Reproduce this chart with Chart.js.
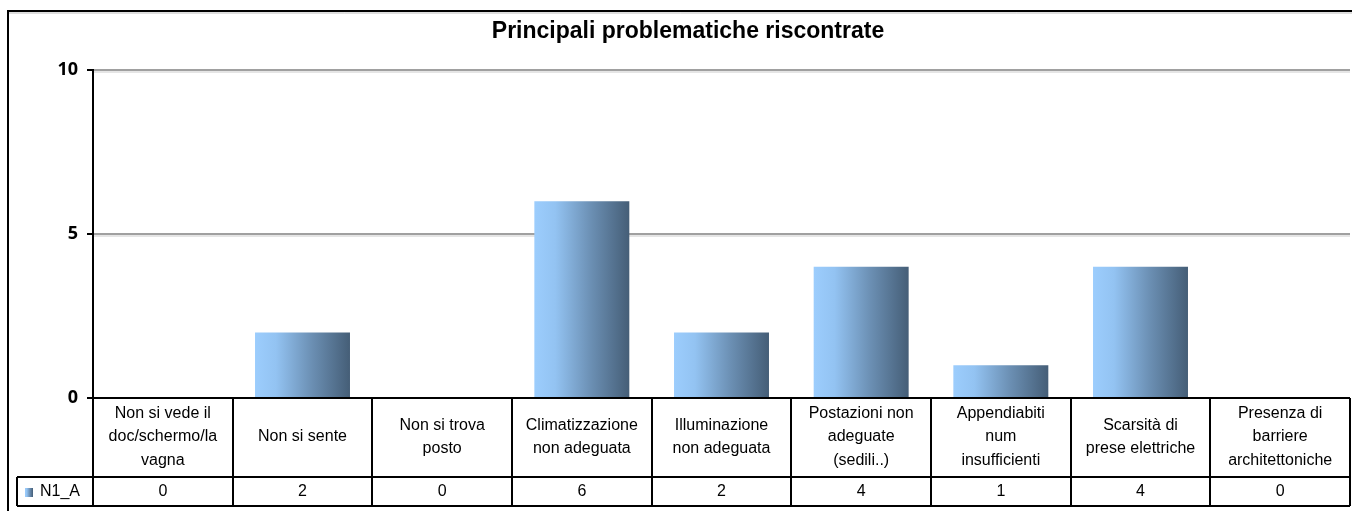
<!DOCTYPE html>
<html>
<head>
<meta charset="utf-8">
<script src="https://cdn.jsdelivr.net/npm/chart.js@4"></script>
<style>
  html, body { margin: 0; padding: 0; background: #fff; }
  #wrap { width: 1352px; height: 511px; }
</style>
</head>
<body>
<div id="wrap"><canvas id="myChart" width="1352" height="511"></canvas></div>
<script>
const chartTitle = "Principali problematiche riscontrate";
const seriesName = "N1_A";
// category labels, already split on the lines used in the table
const categories = [
    ["Non si vede il", "doc/schermo/la", "vagna"],
    ["Non si sente"],
    ["Non si trova", "posto"],
    ["Climatizzazione", "non adeguata"],
    ["Illuminazione", "non adeguata"],
    ["Postazioni non", "adeguate", "(sedili..)"],
    ["Appendiabiti", "num", "insufficienti"],
    ["Scarsità di", "prese elettriche"],
    ["Presenza di", "barriere", "architettoniche"]
];
const values = [0, 2, 0, 6, 2, 4, 1, 4, 0];
const yTicks = [0, 5, 10];

const tableFont = '16px "Liberation Sans", Arial, sans-serif';
const barPct = 0.68;

function makeGradient(ctx, x0, x1) {
    const g = ctx.createLinearGradient(x0, 0, x1, 0);
    g.addColorStop(0, "#9ccdfd");
    g.addColorStop(0.22, "#93c3f2");
    g.addColorStop(0.6, "#6b8fb3");
    g.addColorStop(1, "#455e77");
    return g;
}

// title, outer frame and the data table under the axis
const tablePlugin = {
    id: "tablePlugin",
    beforeDraw(chart) {
        const ctx = chart.ctx;
        ctx.save();
        ctx.strokeStyle = "#bbb";
        ctx.lineWidth = 1;
        ctx.beginPath();
        ctx.moveTo(9, 13); ctx.lineTo(1352, 13);
        ctx.stroke();
        ctx.strokeStyle = "#000";
        ctx.lineWidth = 2;
        ctx.strokeRect(8, 11, 1500, 600);
        ctx.fillStyle = "#000";
        ctx.font = 'bold 23px "Liberation Sans", Arial, sans-serif';
        ctx.textAlign = "center";
        ctx.textBaseline = "middle";
        ctx.fillText(chartTitle, 688, 32);
        ctx.restore();
    },
    beforeDatasetsDraw(chart) {
        // soft shadow under the grey gridlines
        const ctx = chart.ctx;
        const ys = chart.scales.y;
        const area = chart.chartArea;
        ctx.save();
        ctx.strokeStyle = "#dcdcdc";
        ctx.lineWidth = 1.5;
        yTicks.filter(v => v > 0).forEach(v => {
            const y = ys.getPixelForValue(v) + 2;
            ctx.beginPath();
            ctx.moveTo(area.left + 1, y); ctx.lineTo(area.right, y);
            ctx.stroke();
        });
        ctx.restore();
    },
    afterDraw(chart) {
        const ctx = chart.ctx;
        const xs = chart.scales.x;
        const area = chart.chartArea;
        const n = categories.length;
        const colW = (area.right - area.left) / n;
        const top = area.bottom;
        const mid = 477;
        const bot = 506;
        const legLeft = 17;

        ctx.save();
        ctx.strokeStyle = "#000";
        ctx.lineWidth = 2;
        ctx.beginPath();
        ctx.moveTo(area.left, top); ctx.lineTo(area.right, top);
        ctx.moveTo(legLeft, mid); ctx.lineTo(area.right, mid);
        ctx.moveTo(legLeft, bot); ctx.lineTo(area.right, bot);
        ctx.moveTo(legLeft, mid); ctx.lineTo(legLeft, bot);
        for (let i = 0; i <= n; i++) {
            const x = Math.round(area.left + i * colW);
            ctx.moveTo(x, top); ctx.lineTo(x, bot);
        }
        ctx.stroke();

        ctx.fillStyle = "#000";
        ctx.font = tableFont;
        ctx.textAlign = "center";
        ctx.textBaseline = "middle";
        const lh = 23.5;
        categories.forEach((lines, i) => {
            const cx = xs.getPixelForValue(i);
            const y0 = 437 - (lines.length - 1) * lh / 2;
            lines.forEach((t, k) => ctx.fillText(t, cx, y0 + k * lh));
            ctx.fillText(String(values[i]), cx, 492);
        });

        // legend key
        ctx.fillStyle = makeGradient(ctx, 25, 33);
        ctx.fillRect(25, 488, 8, 9);
        ctx.fillStyle = "#000";
        ctx.textAlign = "left";
        ctx.fillText(seriesName, 40, 492);
        ctx.restore();
    }
};

const graph = document.getElementById("myChart").getContext("2d");
let myChart = new Chart(graph, {
    type: "bar",
    data: {
        labels: categories,
        datasets: [
            {
                label: seriesName,
                data: values,
                backgroundColor: (c) => {
                    const xs = c.chart.scales.x;
                    if (!xs || c.dataIndex === undefined) return "#7fa6cc";
                    const cx = xs.getPixelForValue(c.dataIndex);
                    const half = (xs.width / categories.length) * barPct / 2;
                    if (!isFinite(cx) || !isFinite(half) || half <= 0) return "#7fa6cc";
                    return makeGradient(c.chart.ctx, cx - half, cx + half);
                },
                borderWidth: 0,
                categoryPercentage: 1,
                barPercentage: barPct,
            },
        ],
    },
    options: {
        responsive: false,
        animation: false,
        devicePixelRatio: 1,
        layout: {
            padding: { top: 70, right: 2, bottom: 113, left: 0 },
        },
        plugins: {
            legend: { display: false },
            title: { display: false },
            tooltip: { enabled: false },
        },
        scales: {
            x: {
                display: false,
            },
            y: {
                min: 0,
                max: 10,
                afterFit: (scale) => { scale.width = 93; },
                afterBuildTicks: (scale) => {
                    scale.ticks = yTicks.map(v => ({ value: v }));
                },
                ticks: {
                    color: "#000",
                    padding: 9,
                    font: { family: '"Open Sans", "Liberation Sans", sans-serif', size: 18, weight: "bold" },
                },
                grid: {
                    color: (c) => c.tick && c.tick.value === 0 ? "rgba(0,0,0,0)" : "#a0a0a0",
                    lineWidth: 2,
                    tickColor: "#000",
                    tickLength: 6,
                    tickWidth: 2,
                },
                border: {
                    color: "#000",
                    width: 2,
                },
            },
        },
    },
    plugins: [tablePlugin],
});
</script>
</body>
</html>
